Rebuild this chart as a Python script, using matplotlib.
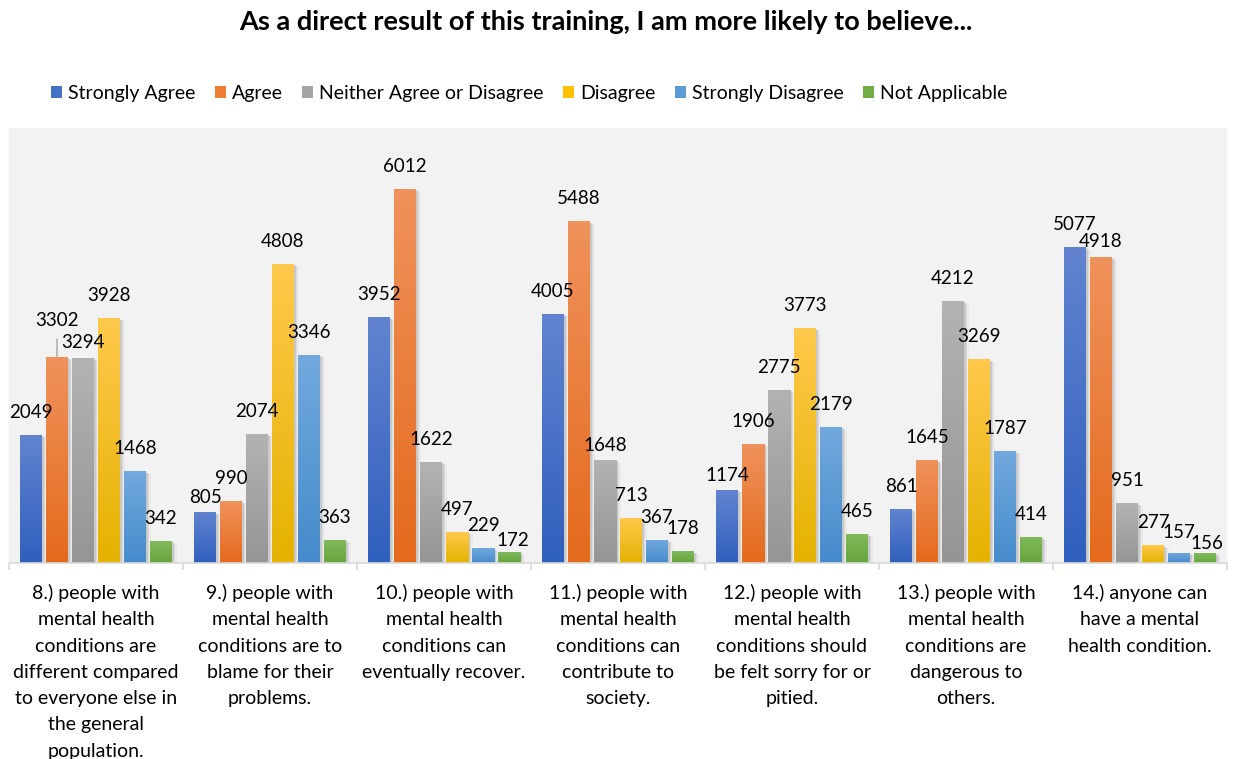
import numpy as np
import matplotlib
matplotlib.use("Agg")
import matplotlib.pyplot as plt
import matplotlib.transforms as mtransforms
from matplotlib.colors import LinearSegmentedColormap
from matplotlib.patches import Rectangle, Patch

plt.rcParams['font.family'] = ['Lato', 'DejaVu Sans']

# Survey responses per statement
categories = [
    "8.) people with\nmental health\nconditions are\ndifferent compared\nto everyone else in\nthe general\npopulation.",
    "9.) people with\nmental health\nconditions are to\nblame for their\nproblems.",
    "10.) people with\nmental health\nconditions can\neventually recover.",
    "11.) people with\nmental health\nconditions can\ncontribute to\nsociety.",
    "12.) people with\nmental health\nconditions should\nbe felt sorry for or\npitied.",
    "13.) people with\nmental health\nconditions are\ndangerous to\nothers.",
    "14.) anyone can\nhave a mental\nhealth condition.",
]
series_names = ["Strongly Agree", "Agree", "Neither Agree or Disagree",
                "Disagree", "Strongly Disagree", "Not Applicable"]

strongly_agree = [2049, 805, 3952, 4005, 1174, 861, 5077]
agree = [3302, 990, 6012, 5488, 1906, 1645, 4918]
neither = [3294, 2074, 1622, 1648, 2775, 4212, 951]
disagree = [3928, 4808, 497, 713, 3773, 3269, 277]
strongly_disagree = [1468, 3346, 229, 367, 2179, 1787, 157]
not_applicable = [342, 363, 172, 178, 465, 414, 156]

all_series = [strongly_agree, agree, neither, disagree, strongly_disagree, not_applicable]

# (bottom, top) colours for the vertical gradient of each series
grad_colors = [
    ("#2f5fbd", "#6284d0"),
    ("#e46a1c", "#f0925c"),
    ("#959595", "#b3b3b3"),
    ("#e5b200", "#ffc94c"),
    ("#458bcb", "#72a9de"),
    ("#66a43b", "#80ba5c"),
]
legend_colors = ["#4472c4", "#ed7d31", "#a5a5a5", "#ffc000", "#5b9bd5", "#70ad47"]

# label nudges in pixels (group, series) -> (dx, dy), default sits 23px above the bar
label_nudge = {
    (0, 1): (0, 14),
    (0, 2): (0, -7),
    (1, 0): (0, -8),
    (2, 5): (4, -11),
    (3, 2): (0, -8),
    (4, 0): (0, -8),
    (6, 1): (0, -7),
    (6, 4): (0, -2),
    (6, 5): (2, -13),
}

W, H = 1235, 759
fig = plt.figure(figsize=(W / 100, H / 100), dpi=100)
ax = fig.add_axes([9 / W, 1 - 563 / H, 1218 / W, 435 / H])
ax.set_facecolor("#f2f2f2")

step = 26 / 174
width = 22 / 174
grad = np.linspace(1, 0, 256).reshape(-1, 1)

for j, (vals, (c_bot, c_top)) in enumerate(zip(all_series, grad_colors)):
    cmap = LinearSegmentedColormap.from_list(f"g{j}", [c_bot, c_top])
    for i, v in enumerate(vals):
        xc = i + (j - 2.5) * step
        x0 = xc - width / 2
        # soft drop shadow to the right
        for off, a in [(1.5, 0.09), (3.0, 0.06), (4.5, 0.03)]:
            tr = ax.transData + mtransforms.ScaledTranslation(off / 100, -off / 200, fig.dpi_scale_trans)
            ax.add_patch(Rectangle((x0, 0), width, v, facecolor="black", alpha=a,
                                   edgecolor="none", transform=tr, zorder=1.5))
        ax.imshow(grad, extent=(x0, x0 + width, 0, v), aspect="auto", cmap=cmap,
                  vmin=0, vmax=1, interpolation="bilinear", zorder=2)

        dx, dy = label_nudge.get((i, j), (0, 0))
        if (i, j) == (0, 1):
            ax.annotate(f"{v}", xy=(xc, v), xytext=(dx, 23 + dy), textcoords="offset pixels",
                        ha="center", va="center", fontsize=13.5, color="black", zorder=4,
                        arrowprops=dict(arrowstyle="-", color="#a6a6a6", lw=1,
                                        shrinkA=5, shrinkB=1))
        else:
            ax.annotate(f"{v}", xy=(xc, v), xytext=(dx, 23 + dy), textcoords="offset pixels",
                        ha="center", va="center", fontsize=13.5, color="black", zorder=4)

ax.set_xlim(-0.5, len(categories) - 0.5)
ax.set_ylim(0, 7000)
ax.set_aspect("auto")

for s in ["top", "left", "right"]:
    ax.spines[s].set_visible(False)
ax.spines["bottom"].set_color("#d9d9d9")
ax.spines["bottom"].set_linewidth(1.2)
ax.set_yticks([])
ax.set_xticks(np.arange(-0.5, len(categories), 1.0))
ax.set_xticklabels([])
ax.tick_params(axis="x", length=5, width=1.2, color="#d9d9d9")

for i, cat in enumerate(categories):
    ax.annotate(cat, xy=(i, 0), xytext=(0, -21), textcoords="offset pixels",
                ha="center", va="top", fontsize=14, linespacing=1.66,
                color="black", annotation_clip=False)

fig.text(606 / W, 1 - 22 / H, "As a direct result of this training, I am more likely to believe...",
         ha="center", va="center", fontsize=19.5, fontweight="bold", color="black")

handles = [Patch(facecolor=c, edgecolor="none") for c in legend_colors]
fig.legend(handles, series_names, loc="center", bbox_to_anchor=(529 / W, 1 - 93 / H),
           ncol=6, frameon=False, fontsize=14, handlelength=0.57, handleheight=0.57,
           handletextpad=0.3, columnspacing=1.0)

fig.savefig("out.png", dpi=100)
